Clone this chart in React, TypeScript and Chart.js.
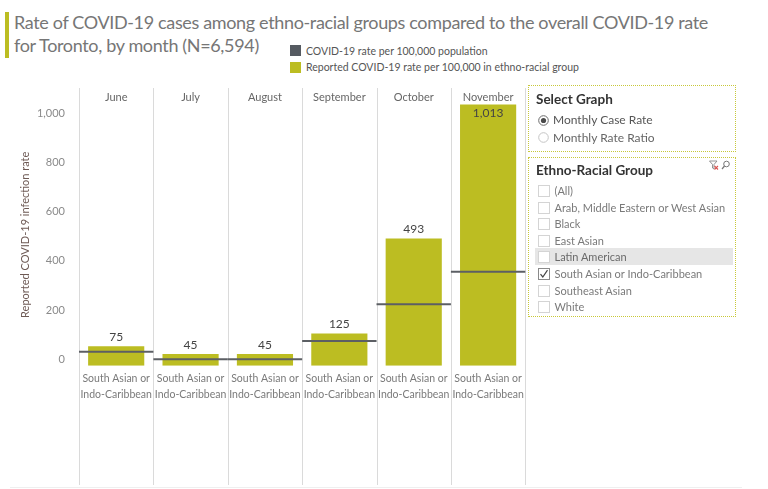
import React, { useEffect, useRef } from "react";
import { Chart, registerables } from "chart.js";

Chart.register(...registerables);

const months = ["June", "July", "August", "September", "October", "November"];
const groupLabel = ["South Asian or", "Indo-Caribbean"];
const groupRates = [75, 45, 45, 125, 493, 1013];
const overallRates = [54, 25, 25, 96, 238, 364];
const yTicks = [0, 200, 400, 600, 800, 1000];
const groups = [
  "(All)",
  "Arab, Middle Eastern or West Asian",
  "Black",
  "East Asian",
  "Latin American",
  "South Asian or Indo-Caribbean",
  "Southeast Asian",
  "White",
];
const checkedGroups = ["South Asian or Indo-Caribbean"];
const hoveredGroup = "Latin American";
const graphOptions = ["Monthly Case Rate", "Monthly Rate Ratio"];
const selectedGraph = "Monthly Case Rate";
const legendItems = [
  { label: "COVID-19 rate per 100,000 population", color: "#555a61" },
  { label: "Reported COVID-19 rate per 100,000 in ethno-racial group", color: "#bcbd22" },
];

const FONT = "Lato, 'Open Sans', sans-serif";
const OLIVE = "#bcbd22";
const HEADER_H = 16;

// Column separators and month headers, positioned from the x scale
const columns = {
  id: "columns",
  beforeDatasetsDraw(chart: any) {
    const x = chart.scales.x;
    const top = chart.chartArea.top - HEADER_H;
    const bottom = x.bottom;
    const labels = chart.data.labels;
    const n = labels.length;
    const ctx = chart.ctx;
    ctx.save();
    ctx.strokeStyle = "#dadada";
    ctx.lineWidth = 1;
    for (let i = 0; i <= n; i++) {
      let pos: number;
      if (i === 0) pos = x.left;
      else if (i === n) pos = x.right;
      else pos = (x.getPixelForValue(i - 1) + x.getPixelForValue(i)) / 2;
      const px = Math.round(pos) + 0.5;
      ctx.beginPath();
      ctx.moveTo(px, top);
      ctx.lineTo(px, bottom);
      ctx.stroke();
    }
    ctx.font = `11px ${FONT}`;
    ctx.fillStyle = "#666";
    ctx.textAlign = "center";
    ctx.textBaseline = "middle";
    labels.forEach((m: string, i: number) => {
      ctx.fillText(m, x.getPixelForValue(i), chart.chartArea.top - 7);
    });
    ctx.restore();
  },
};

const valueLabels = {
  id: "valueLabels",
  afterDatasetsDraw(chart: any) {
    const meta = chart.getDatasetMeta(1);
    const ds = chart.data.datasets[1].data;
    const ctx = chart.ctx;
    ctx.save();
    ctx.font = `12px ${FONT}`;
    ctx.fillStyle = "#444";
    ctx.textAlign = "center";
    ctx.textBaseline = "middle";
    meta.data.forEach((bar: any, i: number) => {
      const text = Number(ds[i]).toLocaleString("en-US");
      let y = bar.y - 9;
      if (y - 7 < chart.chartArea.top) y = bar.y + 9;
      ctx.fillText(text, bar.x, y);
    });
    ctx.restore();
  },
};

function ChartCanvas() {
  const ref = useRef<HTMLCanvasElement>(null);
  useEffect(() => {
    if (!ref.current) return;
    const chart = new Chart(ref.current, {
      type: "bar",
      data: {
        labels: months,
        datasets: [
          {
            type: "line",
            label: legendItems[0].label,
            data: overallRates,
            showLine: false,
            pointStyle: "line",
            pointRadius: 37.2,
            pointHoverRadius: 37.2,
            pointBorderWidth: 2,
            pointHoverBorderWidth: 2,
            borderColor: "#5c5f64",
            backgroundColor: "#5c5f64",
            yAxisID: "y",
            xAxisID: "x",
            clip: false,
            order: 0,
          } as any,
          {
            type: "bar",
            label: legendItems[1].label,
            data: groupRates,
            backgroundColor: OLIVE,
            borderWidth: 0,
            barPercentage: 0.755,
            categoryPercentage: 1,
            yAxisID: "y",
            xAxisID: "x",
            order: 1,
          },
        ],
      },
      options: {
        animation: false,
        responsive: false,
        devicePixelRatio: 1,
        layout: { autoPadding: false, padding: { top: 3 + HEADER_H, right: 4.7, bottom: 4, left: 0 } },
        plugins: { legend: { display: false }, tooltip: { enabled: false } },
        scales: {
          x: {
            type: "category",
            position: "bottom",
            offset: true,
            grid: { display: false },
            border: { display: false },
            ticks: {
              autoSkip: false,
              maxRotation: 0,
              padding: -2.7,
              color: "#7a7a7a",
              font: { family: FONT, size: 10.5, lineHeight: 16 / 10.5 },
              callback: () => groupLabel,
            },
            afterFit: (s: any) => {
              s.height = 119.3;
            },
          },
          y: {
            display: false,
            min: 0,
            max: 1015,
          },
          yl: {
            position: "left",
            min: -26,
            max: 1038,
            grid: { display: false },
            border: { display: false },
            afterBuildTicks: (s: any) => {
              s.ticks = yTicks.map((v) => ({ value: v }));
            },
            ticks: {
              padding: 6,
              color: "#8a8a8a",
              font: { family: FONT, size: 11 },
              callback: (v: any) => Number(v).toLocaleString("en-US"),
            },
            title: {
              display: true,
              text: "Reported COVID-19 infection rate",
              color: "#6e5a55",
              font: { family: FONT, size: 11 },
              padding: { top: 18.4, bottom: 0 },
            },
            afterFit: (s: any) => {
              s.width = 79;
            },
          },
        },
      } as any,
      plugins: [columns, valueLabels],
    });
    return () => chart.destroy();
  }, []);
  return (
    <canvas
      ref={ref}
      width={530}
      height={404}
      style={{ position: "absolute", left: 0, top: 85, width: 530, height: 404 }}
    />
  );
}

function Radio({ on }: { on: boolean }) {
  return (
    <svg width="11" height="11" style={{ position: "absolute", left: 538, top: -5.5 }}>
      <circle cx="5.5" cy="5.5" r="4.8" fill="#fff" stroke={on ? "#6a6a6a" : "#c4c4c4"} strokeWidth="1" />
      {on && <circle cx="5.5" cy="5.5" r="2.6" fill="#4a4a4a" />}
    </svg>
  );
}

function CheckBox({ on }: { on: boolean }) {
  return (
    <svg width="12" height="12" style={{ position: "absolute", left: 538, top: -6 }}>
      <rect x="0.5" y="0.5" width="11" height="11" fill="#fff" stroke={on ? "#8a8a8a" : "#d4d4d4"} strokeWidth="1" />
      {on && <path d="M2.5 6.2 L4.8 9 L9.5 2.2" fill="none" stroke="#444" strokeWidth="1.2" />}
    </svg>
  );
}

export default function App() {
  const radioY = [120.3, 137.7];
  const itemY0 = 191;
  const itemStep = 16.6;
  return (
    <div
      style={{
        position: "absolute",
        left: 0,
        top: 0,
        width: 768,
        height: 489,
        overflow: "hidden",
        background: "#fff",
        fontFamily: FONT,
      }}
    >
      {/* Title */}
      <div style={{ position: "absolute", left: 5, top: 12, width: 4, height: 46, background: OLIVE }} />
      <div
        style={{
          position: "absolute",
          left: 14,
          top: 10.5,
          fontSize: 18,
          letterSpacing: "-0.35px",
          lineHeight: "23px",
          color: "#767676",
          whiteSpace: "nowrap",
        }}
      >
        <div>Rate of COVID-19 cases among ethno-racial groups compared to the overall COVID-19 rate</div>
        <div>for Toronto, by month (N=6,594)</div>
      </div>

      {/* Legend */}
      {legendItems.map((it, i) => (
        <div key={it.label} style={{ position: "absolute", left: 290, top: 50.5 + i * 16.5, height: 0 }}>
          <div
            style={{ position: "absolute", left: 0, top: -5.5, width: 11, height: 11, background: it.color }}
          />
          <div
            style={{
              position: "absolute",
              left: 16,
              top: -8,
              fontSize: 10.5,
              lineHeight: "16px",
              color: "#555",
              whiteSpace: "nowrap",
            }}
          >
            {it.label}
          </div>
        </div>
      ))}

      <ChartCanvas />

      {/* bottom faint rule */}
      <div style={{ position: "absolute", left: 10, top: 487, width: 732, height: 1, background: "#efefef" }} />

      {/* Select Graph box */}
      <div
        style={{
          position: "absolute",
          left: 528,
          top: 85,
          width: 208,
          height: 67,
          border: "1px dotted #c8c83a",
          boxSizing: "border-box",
        }}
      />
      <div
        style={{
          position: "absolute",
          left: 536,
          top: 91,
          fontSize: 13.5,
          fontWeight: 700,
          color: "#333",
          lineHeight: "17px",
          whiteSpace: "nowrap",
        }}
      >
        Select Graph
      </div>
      {graphOptions.map((g, i) => (
        <div key={g} style={{ position: "absolute", left: 0, top: radioY[i], height: 0 }}>
          <Radio on={g === selectedGraph} />
          <div
            style={{
              position: "absolute",
              left: 553,
              top: -8,
              fontSize: 12,
              lineHeight: "16px",
              color: g === selectedGraph ? "#555" : "#666",
              whiteSpace: "nowrap",
            }}
          >
            {g}
          </div>
        </div>
      ))}

      {/* Ethno-Racial Group box */}
      <div
        style={{
          position: "absolute",
          left: 528,
          top: 157,
          width: 208,
          height: 160,
          border: "1px dotted #c8c83a",
          boxSizing: "border-box",
        }}
      />
      <div
        style={{
          position: "absolute",
          left: 536,
          top: 162,
          fontSize: 13.5,
          fontWeight: 700,
          color: "#333",
          lineHeight: "17px",
          whiteSpace: "nowrap",
        }}
      >
        Ethno-Racial Group
      </div>
      <svg width="24" height="12" style={{ position: "absolute", left: 709, top: 160 }}>
        <path d="M0.5 1 L8 1 L5 4.5 L5 9 L3.5 8 L3.5 4.5 Z" fill="none" stroke="#888" strokeWidth="0.9" />
        <path d="M5.5 6 L9 9.5 M9 6 L5.5 9.5" stroke="#d9534f" strokeWidth="1.1" />
        <circle cx="17.5" cy="4" r="2.8" fill="none" stroke="#777" strokeWidth="1" />
        <path d="M15.5 6 L13 9" stroke="#777" strokeWidth="1.2" />
      </svg>
      <div
        style={{
          position: "absolute",
          left: 535,
          top: 248.3,
          width: 198,
          height: 16.7,
          background: "#e6e6e6",
        }}
      />
      {groups.map((g, i) => (
        <div key={g} style={{ position: "absolute", left: 0, top: itemY0 + i * itemStep, height: 0 }}>
          <CheckBox on={checkedGroups.includes(g)} />
          <div
            style={{
              position: "absolute",
              left: 554.5,
              top: -8,
              fontSize: 11,
              lineHeight: "16px",
              color: g === hoveredGroup ? "#6a6a6a" : "#7a7a7a",
              whiteSpace: "nowrap",
            }}
          >
            {g}
          </div>
        </div>
      ))}
    </div>
  );
}
